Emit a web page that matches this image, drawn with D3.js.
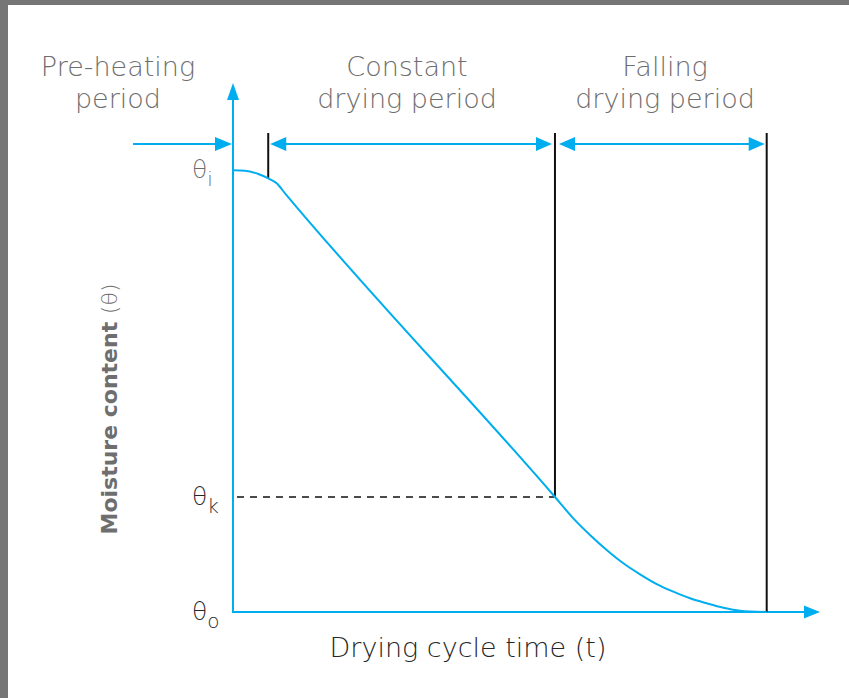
<!DOCTYPE html>
<html><head><meta charset="utf-8">
<script src="https://cdn.jsdelivr.net/npm/d3@7"></script>
<style>
html,body{margin:0;padding:0;background:#fff;}
svg{display:block;}
text{font-family:"DejaVu Sans",sans-serif;}
</style></head>
<body>
<script>
// ---- data ----
const phaseNames = [["Pre-heating","period"],["Constant","drying period"],["Falling","drying period"]];
const phaseBounds = [0, 6, 54.85, 90.92];     // time boundaries of the drying phases
const levelNames = ["i","k","o"];
const levelValues = [83.5, 21.74, 0];         // θi, θk, θo
const curveT =     [0, 2.04, 4.31, 6.01, 7.44, 8.86, 54.85, 57.97, 60.82, 63.66, 66.49, 69.34, 72.18, 75.01, 77.85, 80.70, 83.53, 86.37, 90.92];
const curveTheta = [83.5, 83.42, 82.8, 81.98, 81.04, 79.15, 21.74, 17.71, 14.56, 11.72, 9.21, 7.13, 5.29, 3.84, 2.59, 1.64, 0.81, 0.25, 0];
const xTitle = "Drying cycle time (t)";
const yTitle = "Moisture content ";
const yUnit = "(θ)";

// ---- layout ----
const W = 849, H = 698;
const blue = "#00aeef", grayText = "#6e6e6e", dark = "#262626";
const x = d3.scaleLinear().domain([0,100]).range([233,820]);
const y = d3.scaleLinear().domain([0,100]).range([612,83]);

const svg = d3.select("body").append("svg").attr("width",W).attr("height",H);
svg.append("rect").attr("width",W).attr("height",H).attr("fill","#767676");
svg.append("rect").attr("x",8).attr("y",5).attr("width",W-8).attr("height",H-5).attr("fill","#fff");

function arrowHead(g, tipX, tipY, dir, len, half){
  let pts;
  if(dir==="up") pts=[[tipX,tipY],[tipX-half,tipY+len],[tipX+half,tipY+len]];
  else if(dir==="right") pts=[[tipX,tipY],[tipX-len,tipY-half],[tipX-len,tipY+half]];
  else pts=[[tipX,tipY],[tipX+len,tipY-half],[tipX+len,tipY+half]];
  g.append("path").attr("d","M"+pts.map(p=>p.join(",")).join("L")+"Z").attr("fill",blue);
}

const g = svg.append("g");

// axes
g.append("line").attr("x1",x(0)).attr("x2",x(0)).attr("y1",y(0)+1).attr("y2",y(100)+10)
  .attr("stroke",blue).attr("stroke-width",2);
arrowHead(g, x(0), y(100), "up", 17, 6);
g.append("line").attr("x1",x(0)-1).attr("x2",x(100)-10).attr("y1",y(0)).attr("y2",y(0))
  .attr("stroke",blue).attr("stroke-width",2);
arrowHead(g, x(100), y(0), "right", 16, 6.5);

// dashed θk guide
g.append("line").attr("x1",x(0)+4).attr("x2",x(phaseBounds[2])).attr("y1",y(levelValues[1])).attr("y2",y(levelValues[1]))
  .attr("stroke","#111").attr("stroke-width",1.5).attr("stroke-dasharray","7,6");

// phase boundary lines
const topY = 133, arrowY = 144;
[1,2,3].forEach(i=>{
  const t = phaseBounds[i];
  let bottom;
  if(i===1) bottom = y(curveTheta[3]);
  else if(i===2) bottom = y(levelValues[1]);
  else bottom = y(0);
  g.append("line").attr("x1",x(t)).attr("x2",x(t)).attr("y1",topY).attr("y2",bottom)
    .attr("stroke","#111").attr("stroke-width",2);
});

// phase arrows
g.append("line").attr("x1",133).attr("x2",x(0)-12).attr("y1",arrowY).attr("y2",arrowY).attr("stroke",blue).attr("stroke-width",2);
arrowHead(g, x(0)-1, arrowY, "right", 17, 7);
g.append("line").attr("x1",x(phaseBounds[1])+10).attr("x2",x(phaseBounds[2])-12).attr("y1",arrowY).attr("y2",arrowY).attr("stroke",blue).attr("stroke-width",2);
arrowHead(g, x(phaseBounds[1])+2, arrowY, "left", 16, 7);
arrowHead(g, x(phaseBounds[2])-3, arrowY, "right", 16, 7);
g.append("line").attr("x1",x(phaseBounds[2])+10).attr("x2",x(phaseBounds[3])-12).attr("y1",arrowY).attr("y2",arrowY).attr("stroke",blue).attr("stroke-width",2);
arrowHead(g, x(phaseBounds[2])+4, arrowY, "left", 16, 7);
arrowHead(g, x(phaseBounds[3])-2, arrowY, "right", 16, 7);

// curve
const pts = curveT.map((t,i)=>[t,curveTheta[i]]);
const line = d3.line().x(d=>x(d[0])).y(d=>y(d[1])).curve(d3.curveMonotoneX);
g.append("path").attr("d",line(pts)).attr("fill","none").attr("stroke",blue).attr("stroke-width",2);

// phase labels
const labelCenters = [118, 407, 665];
phaseNames.forEach((lines,i)=>{
  lines.forEach((s,j)=>{
    g.append("text").attr("x",labelCenters[i]).attr("y",76+j*32).attr("text-anchor","middle")
      .attr("font-size",27).attr("font-weight",200).attr("fill",grayText).text(s);
  });
});

// level labels
levelNames.forEach((n,i)=>{
  const t = g.append("text").attr("x",192).attr("y",y(levelValues[i])+8)
    .attr("font-size",25).attr("font-weight",200).attr("fill", i===0?grayText:dark);
  t.append("tspan").text("θ");
  t.append("tspan").attr("dy",8).attr("font-size",20).text(n);
});

// x title
g.append("text").attr("x",468).attr("y",657).attr("text-anchor","middle")
  .attr("font-size",27).attr("font-weight",200).attr("fill",dark).text(xTitle);

// y title
const yt = g.append("text").attr("transform","translate(117,409) rotate(-90)").attr("text-anchor","middle")
  .attr("font-size",22).attr("font-weight",700).attr("fill",grayText);
yt.append("tspan").text(yTitle);
yt.append("tspan").attr("font-weight",200).text(yUnit);
</script>
</body></html>
